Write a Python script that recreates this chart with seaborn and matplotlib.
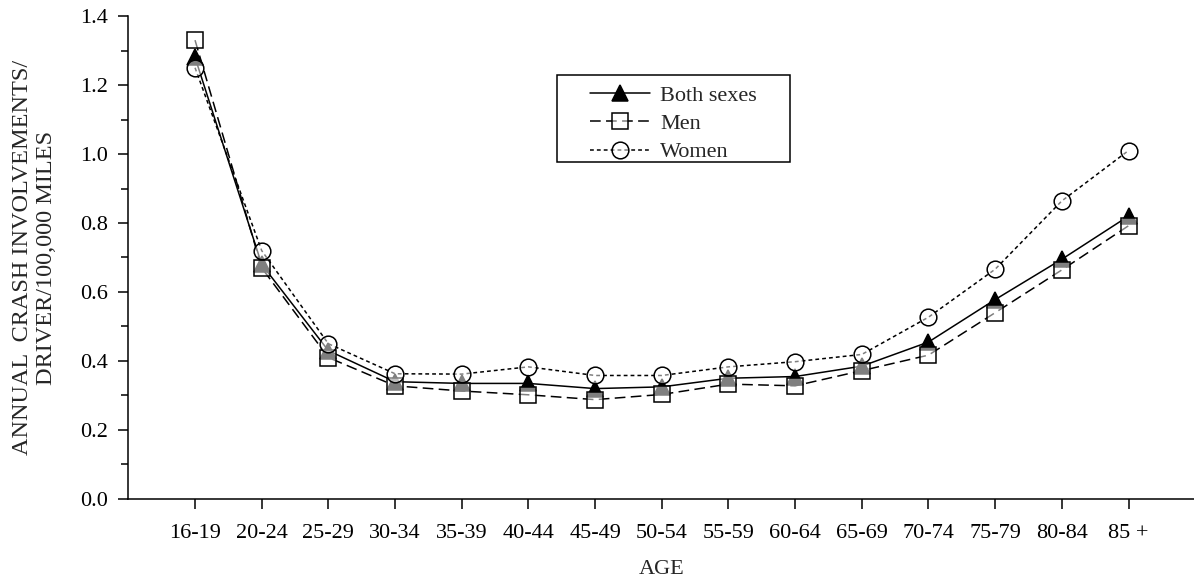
import numpy as np
import pandas as pd
import matplotlib
matplotlib.use("Agg")
import matplotlib.pyplot as plt
from matplotlib.patches import Rectangle
from matplotlib.ticker import MultipleLocator, FormatStrFormatter
import seaborn as sns

# Crash involvements per driver per 100,000 miles, by driver age
age_groups = ["16-19", "20-24", "25-29", "30-34", "35-39", "40-44", "45-49",
              "50-54", "55-59", "60-64", "65-69", "70-74", "75-79", "80-84", "85 +"]
both_sexes = [1.28, 0.68, 0.43, 0.34, 0.335, 0.335, 0.32, 0.325, 0.35, 0.355,
              0.385, 0.455, 0.578, 0.695, 0.82]
men = [1.33, 0.67, 0.41, 0.328, 0.313, 0.302, 0.288, 0.303, 0.333, 0.328,
       0.372, 0.417, 0.54, 0.664, 0.792]
women = [1.25, 0.72, 0.45, 0.363, 0.362, 0.383, 0.358, 0.358, 0.383, 0.398,
         0.419, 0.527, 0.666, 0.864, 1.01]

sns.set_style("ticks")
plt.rcParams["font.family"] = ["Liberation Serif", "DejaVu Serif"]
plt.rcParams["font.size"] = 16

fig = plt.figure(figsize=(11.94, 5.78), dpi=100)
ax = fig.add_axes([0.1075, 0.1367, 0.8935, 0.8356])

pos = np.arange(len(age_groups))
see_through = (1, 1, 1, 0.5)
series = [
    ("Both sexes", both_sexes, dict(marker="^", markersize=11, markerfacecolor="black",
                                    linestyle="-")),
    ("Men", men, dict(marker="s", markersize=11.5, markerfacecolor=see_through,
                      linestyle=(0, (7.0, 3.5)))),
    ("Women", women, dict(marker="o", markersize=12, markerfacecolor=see_through,
                          linestyle=(0, (2.5, 2.0)))),
]

for name, vals, style in series:
    df = pd.DataFrame({"age": pos, "rate": vals})
    sns.lineplot(data=df, x="age", y="rate", ax=ax, label=name, color="black",
                 linewidth=1.1, markeredgecolor="black", markeredgewidth=1.1,
                 sort=False, **style)

ax.set_xlim(-1, 15)
ax.set_ylim(0, 1.4)
ax.set_xticks(pos)
ax.set_xticklabels(age_groups)
ax.yaxis.set_major_locator(MultipleLocator(0.2))
ax.yaxis.set_minor_locator(MultipleLocator(0.1))
ax.yaxis.set_major_formatter(FormatStrFormatter("%.1f"))

for side in ("top", "right"):
    ax.spines[side].set_visible(False)
for side in ("left", "bottom"):
    ax.spines[side].set_linewidth(1.1)
    ax.spines[side].set_color("black")

ax.tick_params(axis="both", which="major", direction="out", length=7, width=1.1,
               color="black", labelsize=16, labelcolor="black")
ax.tick_params(axis="x", which="major", pad=11)
ax.tick_params(axis="y", which="major", pad=8)
ax.tick_params(axis="y", which="minor", direction="out", length=5, width=1.1,
               color="black")

ax.set_xlabel("AGE", fontsize=16, labelpad=12)
ax.set_ylabel("ANNUAL  CRASH INVOLVEMENTS/\nDRIVER/100,000 MILES", fontsize=17.5,
              labelpad=16, linespacing=1.2)

# Legend entries without their own frame; the box is drawn as a separate rectangle
leg = ax.legend(loc="upper left", bbox_to_anchor=(0.4328, 0.8561), borderaxespad=0,
                borderpad=0, frameon=False, handlelength=2.7, fontsize=16,
                labelspacing=0.34, handletextpad=0.45)
ax.add_patch(Rectangle((0.4018, 0.6977), 0.2185, 0.1801, transform=ax.transAxes,
                       facecolor="none", edgecolor="black", linewidth=1.1,
                       zorder=5, clip_on=False))

fig.savefig("out.png", dpi=100)
